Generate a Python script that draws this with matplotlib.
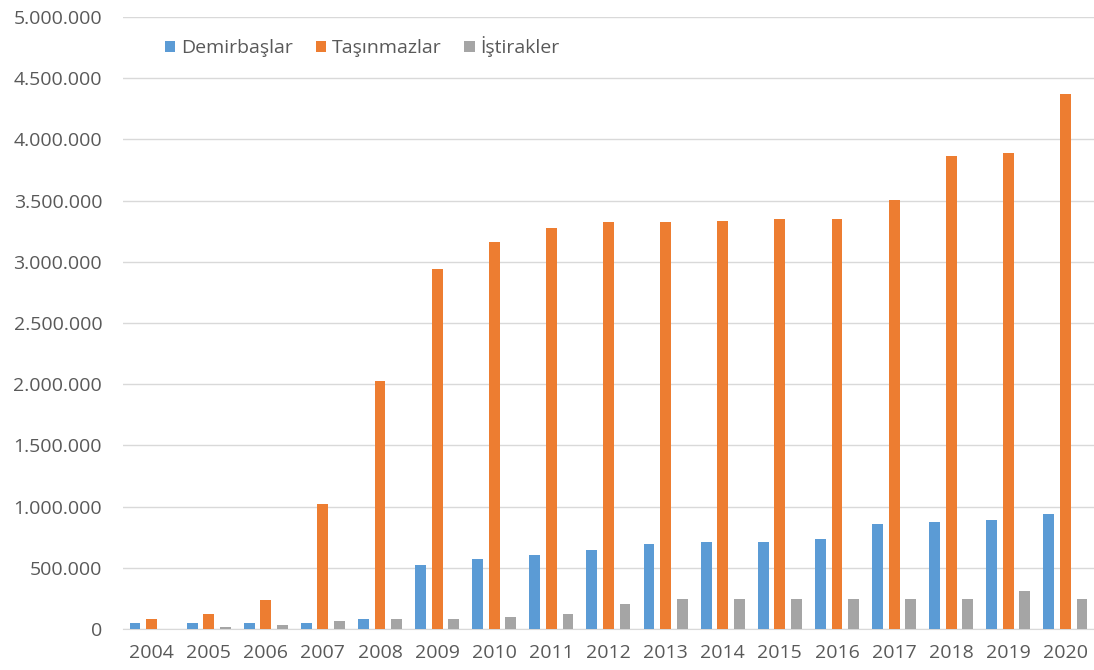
import numpy as np
import matplotlib
matplotlib.use("Agg")
import matplotlib.pyplot as plt
from matplotlib.ticker import FuncFormatter, MultipleLocator

years = [str(y) for y in range(2004, 2021)]
demirbaslar = [49000, 49000, 49000, 49000, 79000, 525000, 572000, 602000, 648000,
               694000, 708000, 708000, 738000, 860000, 877000, 893000, 940000]
tasinmazlar = [82000, 125000, 234000, 1020000, 2025000, 2945000, 3158000, 3276000, 3325000,
               3325000, 3335000, 3352000, 3352000, 3505000, 3865000, 3892000, 4370000]
istirakler = [0, 19000, 33000, 63000, 79000, 79000, 95000, 125000, 202000,
              248000, 248000, 248000, 248000, 248000, 248000, 308000, 248000]

series = [("Demirbaşlar", demirbaslar, "#5b9bd5"),
          ("Taşınmazlar", tasinmazlar, "#ed7d31"),
          ("İştirakler", istirakler, "#a5a5a5")]

plt.rcParams['font.family'] = ['Open Sans', 'DejaVu Sans']
txt = "#595959"

fig = plt.figure(figsize=(10.94, 6.70), dpi=100)
ax = fig.add_axes([0.1124, 0.0612, 0.8876, 0.9134])

x = np.arange(len(years))
w = 0.19
step = 0.29
for i, (name, vals, col) in enumerate(series):
    ax.bar(x + (i - 1) * step, vals, width=w, color=col, label=name, zorder=3)

ax.set_xlim(-0.5, len(years) - 0.5)
ax.set_ylim(0, 5000000)
ax.yaxis.set_major_locator(MultipleLocator(500000))
ax.yaxis.set_major_formatter(FuncFormatter(lambda v, p: f"{int(v):,}".replace(",", ".")))
ax.set_xticks(x)
ax.set_xticklabels(years)
ax.grid(axis='y', color='#d9d9d9', linewidth=1, zorder=0)
for s in ['top', 'right', 'left']:
    ax.spines[s].set_visible(False)
ax.spines['bottom'].set_color('#d9d9d9')
ax.tick_params(axis='both', length=0, labelsize=14, colors=txt)
ax.tick_params(axis='y', pad=15)
ax.tick_params(axis='x', pad=11)

leg = ax.legend(loc='upper left', bbox_to_anchor=(0.025, 0.997), ncol=3, frameon=False,
                fontsize=14, handlelength=0.55, handleheight=0.55, handletextpad=0.3,
                columnspacing=1.15)
for t in leg.get_texts():
    t.set_color(txt)

fig.savefig("out.png", dpi=100)
